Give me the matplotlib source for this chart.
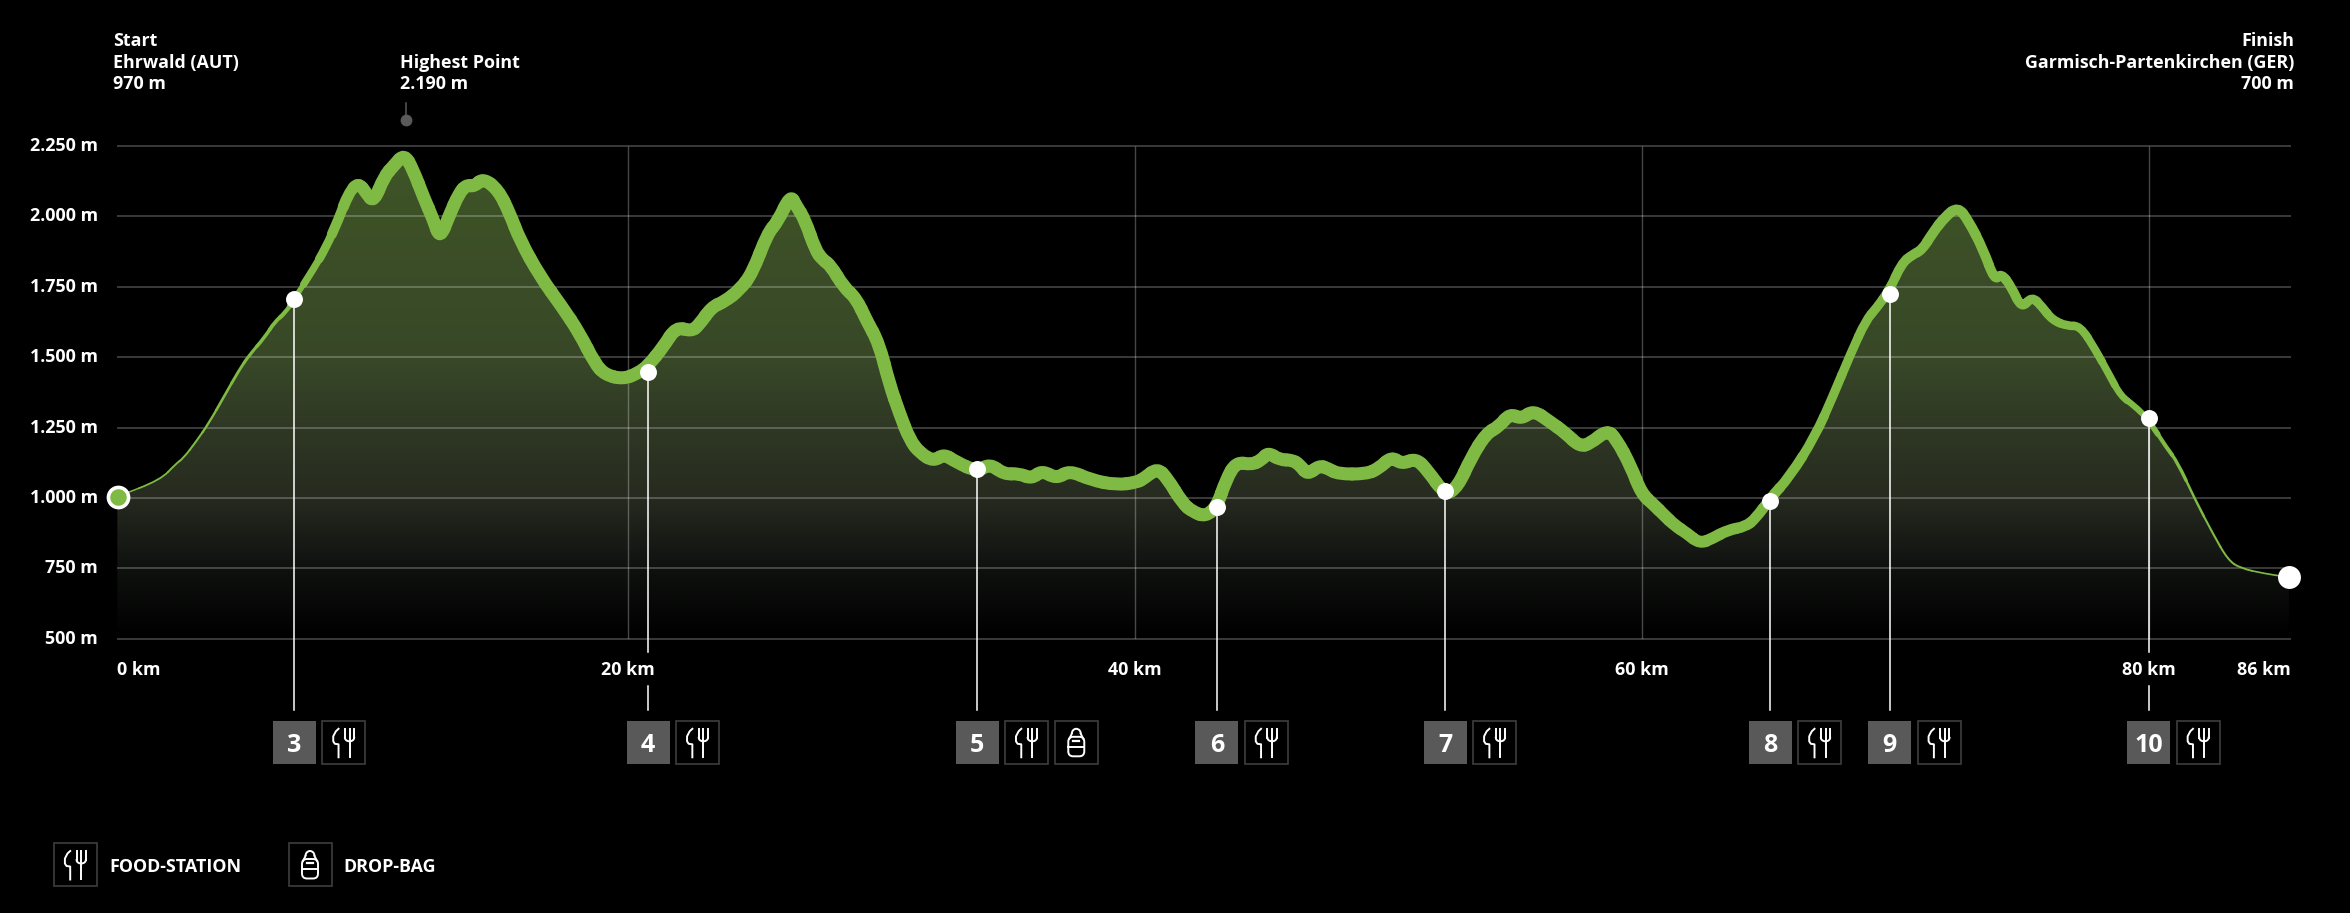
import numpy as np
import matplotlib
matplotlib.use('Agg')
import matplotlib.pyplot as plt
from matplotlib.collections import PathCollection
from matplotlib.colors import LinearSegmentedColormap
from matplotlib.patches import Rectangle, FancyBboxPatch, Arc
from matplotlib.path import Path

plt.rcParams['font.family'] = ['Open Sans', 'DejaVu Sans']
plt.rcParams['font.weight'] = 'bold'

# elevation profile
km = [0, 1.7, 2.3, 2.6, 3.1, 3.6, 4.2, 4.8, 5.2, 5.8, 6.2, 6.6, 6.97, 7.7, 8.2, 8.7, 9.1, 9.5, 9.8, 10.1,
      10.5, 10.9, 11.3, 11.65, 12.05, 12.45, 12.7, 13.05, 13.45, 13.75, 14.05, 14.4, 15, 15.45, 15.85, 16.65,
      17.5, 18.2, 18.8, 19.2, 19.9, 20.5, 20.9, 21.5, 22, 22.6, 22.9, 23.4, 23.9, 24.5, 25, 25.6, 26, 26.5,
      26.72, 27.08, 27.48, 27.78, 28.08, 28.59, 29.09, 29.49, 29.99, 30.39, 30.8, 31.2, 31.6, 32.14, 32.54,
      33, 33.85, 34.35, 34.91, 35.5, 36, 36.4, 36.98, 37.48, 38.33, 39.33, 40.13, 40.43, 40.94, 41.34, 41.94,
      42.34, 42.84, 43.29, 43.65, 44.05, 44.65, 45.05, 45.31, 45.76, 46.26, 46.56, 46.86, 47.32, 47.66, 48.06,
      49.17, 49.67, 50.17, 50.57, 51.12, 51.58, 52.28, 52.78, 53.29, 53.89, 54.39, 54.83, 55.29, 55.74, 56.4,
      57, 57.58, 58, 58.65, 59, 59.6, 60, 60.5, 60.9, 61.3, 61.8, 62.3, 62.8, 63.4, 64.1, 64.5, 65.07, 65.84,
      66.84, 67.54, 68.25, 68.85, 69.25, 69.77, 70.25, 70.66, 71.06, 71.46, 71.96, 72.46, 72.87, 73.47, 73.91,
      74.17, 74.57, 74.97, 75.38, 75.78, 76.18, 76.78, 77.28, 77.89, 78.39, 78.89, 79.39, 79.97, 80.7, 81.1,
      81.8, 82.5, 83.1, 83.6, 84.5, 85.5]
elevation = [1005, 1064, 1121, 1141, 1200, 1265, 1360, 1455, 1508, 1570, 1626, 1656, 1707, 1810, 1887, 1987, 2082,
             2122, 2082, 2050, 2141, 2182, 2222, 2165, 2070, 1987, 1920, 1999, 2082, 2112, 2106, 2136, 2094, 2011,
             1916, 1786, 1680, 1585, 1478, 1438, 1422, 1443, 1470, 1537, 1608, 1592, 1614, 1678, 1697, 1739, 1798,
             1940, 1981, 2076, 2040, 1987, 1881, 1845, 1827, 1750, 1709, 1632, 1549, 1407, 1300, 1206, 1160, 1130,
             1156, 1129, 1093, 1122, 1084, 1087, 1068, 1098, 1068, 1098, 1064, 1046, 1055, 1070, 1106, 1070, 981,
             951, 934, 969, 1064, 1128, 1118, 1135, 1162, 1135, 1135, 1117, 1082, 1115, 1105, 1085, 1085, 1105, 1147,
             1120, 1141, 1099, 1010, 1040, 1141, 1229, 1253, 1300, 1280, 1312, 1271, 1232, 1182, 1194, 1241, 1212,
             1111, 1016, 975, 939, 904, 874, 838, 856, 886, 898, 927, 998, 1075, 1218, 1360, 1514, 1632, 1673, 1738,
             1833, 1863, 1881, 1940, 1999, 2034, 1987, 1881, 1772, 1798, 1750, 1672, 1716, 1679, 1632, 1610, 1612,
             1525, 1443, 1360, 1330, 1277, 1176, 1129, 995, 874, 779, 750, 732, 718]

y_ticks = [500, 750, 1000, 1250, 1500, 1750, 2000, 2250]
y_labels = ['500 m', '750 m', '1.000 m', '1.250 m', '1.500 m', '1.750 m', '2.000 m', '2.250 m']
x_ticks = [0, 20.09, 40.07, 60.02, 79.99, 85.58]
x_labels = ['0 km', '20 km', '40 km', '60 km', '80 km', '86 km']

# aid stations: number, km, elevation, has drop bag
station_no = ['3', '4', '5', '6', '7', '8', '9', '10']
station_km = [6.97, 20.9, 33.85, 43.29, 52.28, 65.08, 69.78, 79.98]
station_elev = [1707, 1446, 1103, 967, 1023, 989, 1723, 1283]
station_bag = [False, False, True, False, False, False, False, False]

GREEN = '#7fbb44'
FS = 12.9
W, H = 2350, 913

fig = plt.figure(figsize=(W / 100, H / 100), dpi=100, facecolor='black')
ax = fig.add_axes([117.3 / W, 1 - 638.7 / H, (2291 - 117.3) / W, (638.7 - 146) / H], facecolor='black')
ax.set_xlim(0, 85.58)
ax.set_ylim(500, 2250)

# quadratic curve pieces through the read points, so the line is drawn round and not as a polyline
P = np.column_stack([km, elevation])
mids = (P[:-1] + P[1:]) / 2
pieces = [Path([P[0], mids[0]], [Path.MOVETO, Path.LINETO])]
for i in range(1, len(P) - 1):
    pieces.append(Path([mids[i - 1], P[i], mids[i]], [Path.MOVETO, Path.CURVE3, Path.CURVE3]))
pieces.append(Path([mids[-1], P[-1]], [Path.MOVETO, Path.LINETO]))

outline = [P[0]]
codes = [Path.MOVETO]
for p in pieces:
    outline.extend(p.vertices[1:])
    codes.extend(p.codes[1:])
outline.extend([(km[-1], 500), (km[0], 500), P[0]])
codes.extend([Path.LINETO, Path.LINETO, Path.CLOSEPOLY])
area = Path(outline, codes)

# gradient under the curve
cmap = LinearSegmentedColormap.from_list('fill', [(0, '#000000'), (0.14, '#0f110f'), (0.29, '#272b20'),
                                                  (0.43, '#2f3824'), (0.57, '#384828'), (1, '#3f5526')])
grad = np.linspace(0, 1, 400).reshape(-1, 1)
im = ax.imshow(grad, extent=[0, 85.58, 500, 2250], origin='lower', aspect='auto', cmap=cmap, zorder=1)
im.set_clip_path(area, transform=ax.transData)

ax.hlines(y_ticks, 0, 85.58, color='white', alpha=0.28, lw=1.15, zorder=2, clip_on=False)
ax.vlines(x_ticks[1:5], 500, 2250, color='white', alpha=0.28, lw=1.0, zorder=2)

ax.set_yticks(y_ticks, y_labels, fontsize=FS, color='white')
ax.set_xticks(x_ticks, x_labels, fontsize=FS, color='white')
ax.tick_params(axis='y', length=0, pad=14)
ax.tick_params(axis='x', length=0, pad=16)
for t in ax.get_yticklabels():
    t.set_va('center')
for t, ha in zip(ax.get_xticklabels(), ['left', 'center', 'center', 'center', 'center', 'right']):
    t.set_ha(ha)
for s in ax.spines.values():
    s.set_visible(False)

# profile line gets thicker in the middle, thin at both ends
width_km = [0, 3, 5, 6.5, 7, 8, 9, 10, 60, 65, 68, 70, 72, 75, 78, 80, 81, 82, 85.5]
width_px = [1.5, 2, 3, 4, 5.5, 8, 11, 13, 13, 10.5, 9, 9.5, 10.5, 9.5, 8, 5.5, 3.5, 2.2, 1.5]
lw = np.interp(km, width_km, width_px) * 0.72
line = PathCollection(pieces, facecolors='none', edgecolors=GREEN, linewidths=lw, capstyle='round',
                      transform=ax.transData, offsets=None, zorder=3, clip_on=False)
ax.add_collection(line, autolim=False)

# overlay in image pixels for annotations
ov = fig.add_axes([0, 0, 1, 1], facecolor='none')
ov.set_xlim(0, W)
ov.set_ylim(H, 0)
ov.axis('off')


def to_px(k, e):
    x, y = ax.transData.transform((k, e))
    return x, H - y


def fork_icon(cx, cy):
    ov.plot([cx + 5.7, cx + 5.7], [cy - 3, cy + 15], color='white', lw=1.4)
    t = np.linspace(np.pi, 0, 20)
    ov.plot(cx + 5.7 + 4.6 * np.cos(t), cy - 4.5 + 3.5 * np.sin(t), color='white', lw=1.4)
    ov.plot([cx + 1.1, cx + 1.1], [cy - 13.5, cy - 4.5], color='white', lw=1.4)
    ov.plot([cx + 10.3, cx + 10.3], [cy - 13.5, cy - 4.5], color='white', lw=1.4)
    ov.plot([cx + 5.7, cx + 5.7], [cy - 13.5, cy - 3], color='white', lw=1.4)
    # knife
    ov.plot([cx - 5.3, cx - 8, cx - 10.6, cx - 10.6, cx - 9, cx - 5.3, cx - 5.3],
            [cy - 13.5, cy - 11, cy - 6, cy - 1, cy + 1.5, cy + 2, cy + 15],
            color='white', lw=1.4, solid_joinstyle='round')


def bag_icon(cx, cy):
    ov.add_patch(FancyBboxPatch((cx - 8, cy - 5.5), 16, 19.5, boxstyle='round,pad=0,rounding_size=5',
                                fc='none', ec='white', lw=1.4))
    ov.add_patch(Arc((cx, cy - 8.5), 9, 10, theta1=180, theta2=360, ec='white', lw=1.4))
    ov.plot([cx - 4.5, cx - 7], [cy - 8.5, cy - 3.5], color='white', lw=1.4)
    ov.plot([cx + 4.5, cx + 7], [cy - 8.5, cy - 3.5], color='white', lw=1.4)
    ov.plot([cx - 8, cx + 8], [cy + 4.5, cy + 4.5], color='white', lw=1.4)
    ov.plot([cx - 3, cx + 3], [cy - 1.5, cy - 1.5], color='white', lw=1.6)


def icon_box(x0, y0, w=43, h=43):
    ov.add_patch(Rectangle((x0, y0), w, h, fc='black', ec='#3e3e3e', lw=1.2))


BOX_TOP = 720.7
for no, k, e, bag in zip(station_no, station_km, station_elev, station_bag):
    x, y = to_px(k, e)
    if min(abs(k - t) for t in x_ticks) < 1:
        ov.plot([x, x], [y, 652.5], color='white', lw=1.1, zorder=4)
        ov.plot([x, x], [686, 710], color='white', lw=1.1, zorder=4)
    else:
        ov.plot([x, x], [y, 710], color='white', lw=1.1, zorder=4)
    ov.plot(x, y, 'o', ms=12.2, mfc='white', mec='none', zorder=5)
    ov.add_patch(Rectangle((x - 21.5, BOX_TOP), 43, 43.3, fc='#595959', ec='none'))
    ov.text(x, BOX_TOP + 22, no, color='white', fontsize=18, ha='center', va='center_baseline')
    icon_box(x + 28, BOX_TOP)
    fork_icon(x + 49.5, BOX_TOP + 21.6)
    if bag:
        icon_box(x + 77.7, BOX_TOP)
        bag_icon(x + 99.2, BOX_TOP + 21.6)

# start and finish dots
x, y = to_px(km[0], elevation[0])
ov.plot(x + 1, y, 'o', ms=14.5, mfc=GREEN, mec='white', mew=2.6, zorder=5)
x, y = to_px(km[-1], elevation[-1])
ov.plot(x, y, 'o', ms=16.5, mfc='white', mec='none', zorder=5)

# head labels
for i, s in enumerate(['Start', 'Ehrwald (AUT)', '970 m']):
    ov.text(113, 41 + i * 21.7, s, color='white', fontsize=FS, va='center')
for i, s in enumerate(['Highest Point', '2.190 m']):
    ov.text(400, 62.7 + i * 21.7, s, color='white', fontsize=FS, va='center')
for i, s in enumerate(['Finish', 'Garmisch-Partenkirchen (GER)', '700 m']):
    ov.text(2294, 41 + i * 21.7, s, color='white', fontsize=FS, va='center', ha='right')

# highest point marker
ov.plot([405.5, 405.5], [103, 118], color='#5a5a5a', lw=1.1)
ov.plot(405.5, 120, 'o', ms=8.5, mfc='#5a5a5a', mec='none')

# legend
icon_box(54, 843)
fork_icon(75.5, 864.5)
ov.text(109, 867, 'FOOD-STATION', color='white', fontsize=FS, va='center')
icon_box(288.5, 843)
bag_icon(310, 864.5)
ov.text(343, 867, 'DROP-BAG', color='white', fontsize=FS, va='center')

fig.savefig('out.png', dpi=100, facecolor='black')
